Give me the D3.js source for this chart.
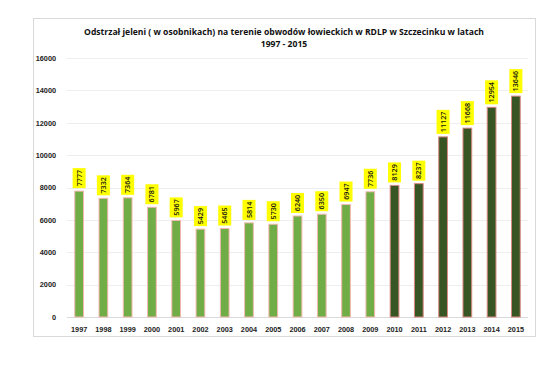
<!doctype html>
<html>
<head>
<meta charset="utf-8">
<title>Odstrzał jeleni 1997 - 2015</title>
<script src="https://cdn.jsdelivr.net/npm/d3@7"></script>
<style>
  body { margin: 0; background: #fff; }
  svg { display: block; font-family: "Open Sans", "Liberation Sans", sans-serif; }
  .tick text { fill: #222; font-weight: 600; }
  .label { font-weight: 600; fill: #111; }
</style>
</head>
<body>
<svg id="chart" width="560" height="371"></svg>
<script>
var years = ["1997", "1998", "1999", "2000", "2001", "2002", "2003", "2004", "2005", "2006",
             "2007", "2008", "2009", "2010", "2011", "2012", "2013", "2014", "2015"];
var culled = [7777, 7332, 7364, 6781, 5967, 5429, 5465, 5814, 5730, 6240,
              6350, 6947, 7736, 8129, 8237, 11127, 11668, 12954, 13646];
var yTicks = [0, 2000, 4000, 6000, 8000, 10000, 12000, 14000, 16000];
var titleLines = ["Odstrzał jeleni ( w osobnikach) na terenie obwodów łowieckich w RDLP w Szczecinku w latach",
                  "1997 - 2015"];

var svg = d3.select("#chart");
var margin = { left: 67, right: 32, top: 58, bottom: 54 };
var width = 560 - margin.left - margin.right,
    height = 371 - margin.top - margin.bottom;

// chart frame
svg.append("rect")
    .attr("x", 33.5).attr("y", 18.5)
    .attr("width", 502).attr("height", 318)
    .attr("fill", "#fff").attr("stroke", "#d9d9d9");

svg.append("g").selectAll("text")
  .data(titleLines)
  .enter().append("text")
    .attr("x", 284)
    .attr("y", function(d, i) { return 35 + i * 11.5; })
    .attr("text-anchor", "middle")
    .attr("font-size", 8.6)
    .attr("font-weight", "bold")
    .attr("fill", "#111")
    .text(function(d) { return d; });

var g = svg.append("g").attr("transform", "translate(" + margin.left + "," + margin.top + ")");

var x = d3.scaleBand().domain(years).range([0, width]).paddingInner(0.64).paddingOuter(0.32);
var y = d3.scaleLinear().domain([0, 16000]).range([height, 0]);

// gridlines
g.append("g").selectAll("line")
  .data(yTicks)
  .enter().append("line")
    .attr("x1", 0).attr("x2", width)
    .attr("y1", function(d) { return Math.round(y(d)) + 0.5; })
    .attr("y2", function(d) { return Math.round(y(d)) + 0.5; })
    .attr("stroke", function(d) { return d === 0 ? "#d9d9d9" : "#eeeeee"; });

var yAxis = g.append("g")
    .attr("transform", "translate(-8,0)")
    .call(d3.axisLeft(y).tickValues(yTicks).tickSize(0).tickFormat(d3.format("d")));
yAxis.select(".domain").remove();
yAxis.selectAll("text").attr("font-size", 7.3);

var xAxis = g.append("g")
    .attr("transform", "translate(0," + (height + 7) + ")")
    .call(d3.axisBottom(x).tickSize(0));
xAxis.select(".domain").remove();
xAxis.selectAll("text").attr("font-size", 7.3);

g.append("g").selectAll("rect")
  .data(culled)
  .enter().append("rect")
    .attr("x", function(d, i) { return x(years[i]); })
    .attr("y", function(d) { return y(d); })
    .attr("width", x.bandwidth())
    .attr("height", function(d) { return height - y(d); })
    .attr("fill", function(d, i) { return +years[i] >= 2010 ? "#375623" : "#70ad47"; })
    .attr("stroke", function(d, i) { return +years[i] >= 2010 ? "#d98880" : "#f4b8b0"; })
    .attr("stroke-width", 1);

// rotated data labels on yellow boxes
var labels = g.append("g").selectAll("g")
  .data(culled)
  .enter().append("g")
    .attr("transform", function(d, i) {
      return "translate(" + (x(years[i]) + x.bandwidth() / 2) + "," + (y(d) - 3) + ") rotate(-90)";
    });

labels.append("rect")
    .attr("x", 0)
    .attr("y", -6.5)
    .attr("width", function(d) { return String(d).length === 5 ? 24 : 20; })
    .attr("height", 13)
    .attr("fill", "#ffff00");

labels.append("text")
    .attr("class", "label")
    .attr("x", function(d) { return String(d).length === 5 ? 12 : 10; })
    .attr("y", 0)
    .attr("dy", "0.35em")
    .attr("text-anchor", "middle")
    .attr("font-size", 7.2)
    .text(function(d) { return d; });
</script>
</body>
</html>
